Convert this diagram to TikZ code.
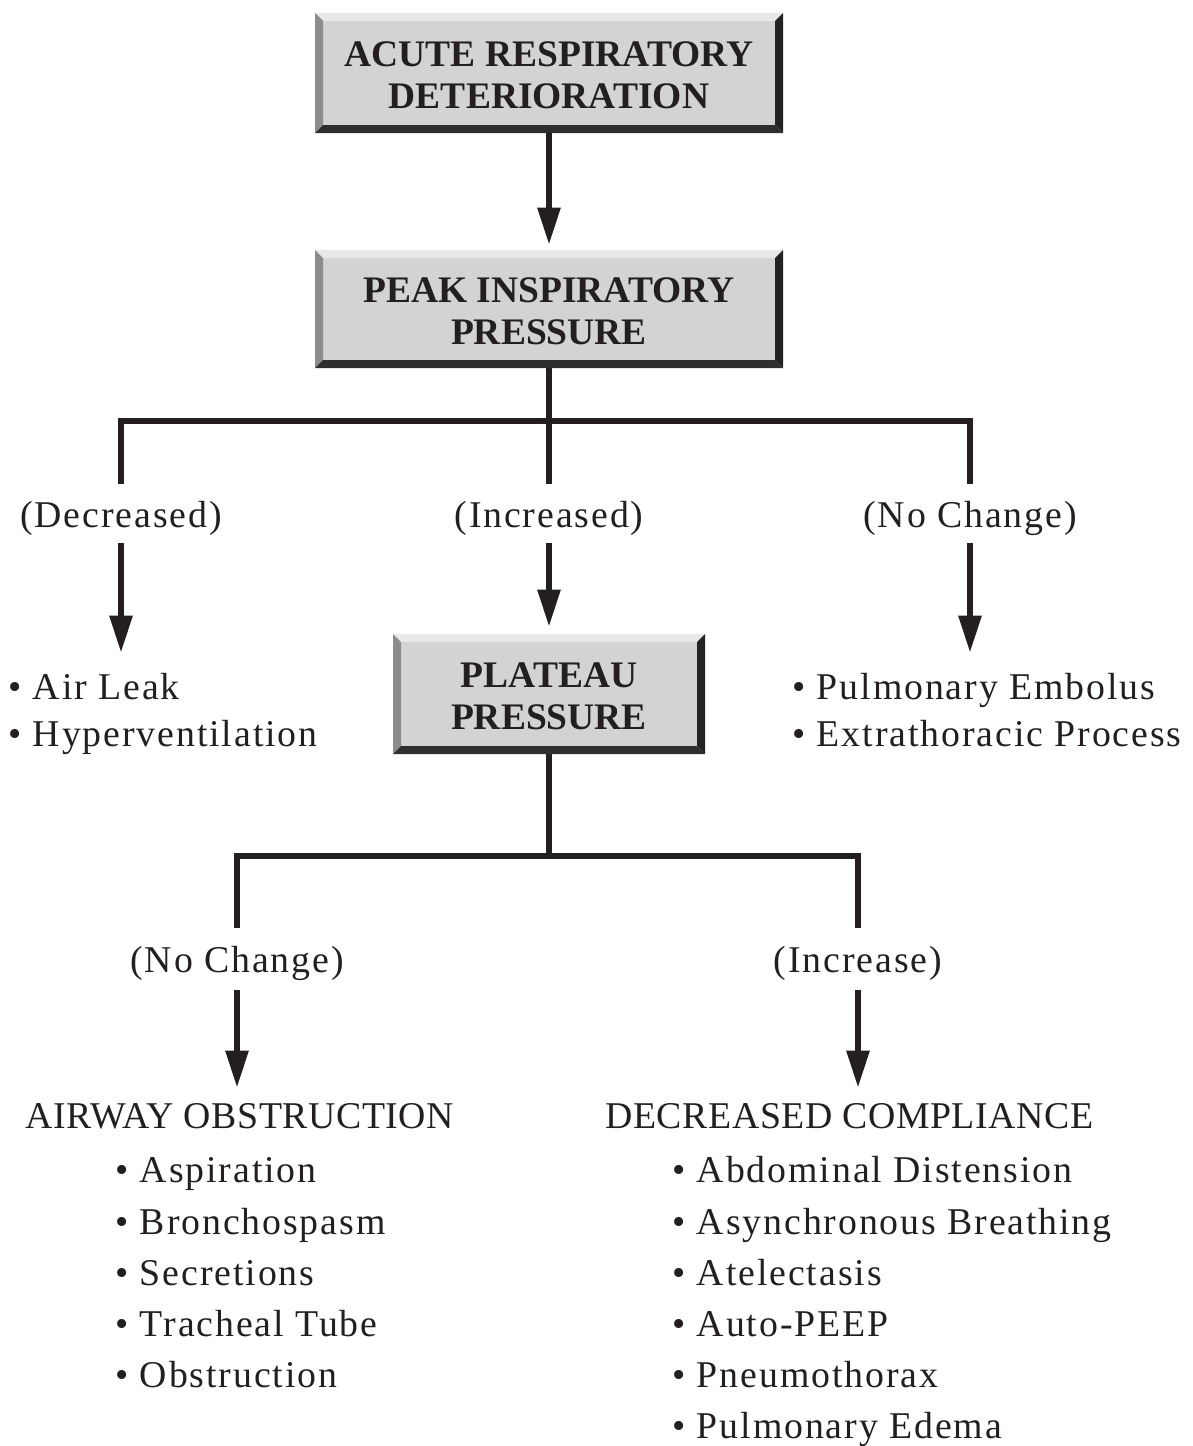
\documentclass[tikz,border=0pt]{standalone}
\usepackage{fontspec}
\setmainfont{Liberation Serif}
\newfontfamily\itemfont[LetterSpace=5]{Liberation Serif}
\newfontfamily\headfont[LetterSpace=1.5]{Liberation Serif}
\usetikzlibrary{arrows.meta,calc}

\definecolor{ink}{HTML}{231F20}
\definecolor{face}{HTML}{D3D3D3}
\definecolor{bevtop}{HTML}{E8E8E8}
\definecolor{bevleft}{HTML}{8C8C8C}
\definecolor{bevright}{HTML}{232323}
\definecolor{bevbottom}{HTML}{2E2E2E}

% invisible strut that lowers the two-line box captions slightly
\newcommand{\capstrut}{\rule{0pt}{14.9pt}}

\tikzset{
  ln/.style={draw=ink, line width=3pt},
  arr/.style={ln, -{Triangle[length=18.5pt,width=11pt]}},
  bevelbox/.style={
    rectangle, fill=face, inner sep=0pt, text=ink, align=center,
    font=\bfseries\fontsize{18.75}{21}\selectfont,
    path picture={
      \coordinate (pnw) at (path picture bounding box.north west);
      \coordinate (pne) at (path picture bounding box.north east);
      \coordinate (psw) at (path picture bounding box.south west);
      \coordinate (pse) at (path picture bounding box.south east);
      \fill[bevtop] (pnw) -- (pne) -- ($(pne)+(-8,8)$) -- ($(pnw)+(8,8)$) -- cycle;
      \fill[bevleft] (pnw) -- (psw) -- ($(psw)+(8,-8)$) -- ($(pnw)+(8,8)$) -- cycle;
      \fill[bevright] (pne) -- (pse) -- ($(pse)+(-8,-8)$) -- ($(pne)+(-8,8)$) -- cycle;
      \fill[bevbottom] (psw) -- (pse) -- ($(pse)+(-8,-8)$) -- ($(psw)+(8,-8)$) -- cycle;
    }},
  cond/.style={font=\itemfont\fontsize{18.9}{21}\selectfont, text=ink,
    inner sep=0pt, anchor=base, text height=21.5pt, text depth=8pt},
  item/.style={font=\itemfont\fontsize{18.9}{21}\selectfont, text=ink,
    inner sep=0pt, anchor=base west},
  head/.style={font=\headfont\fontsize{18.9}{21}\selectfont, text=ink,
    inner sep=0pt, anchor=base west, text height=20pt},
}

\begin{document}
\begin{tikzpicture}[x=0.5pt,y=-0.5pt]
  \useasboundingbox (0,0) rectangle (1193,1446);

  % decision boxes
  \node[bevelbox, minimum width=234pt, minimum height=60pt] (b1) at (549,73)
    {\capstrut ACUTE RESPIRATORY\\DETERIORATION};
  \node[bevelbox, minimum width=234pt, minimum height=59pt] (b2) at (549,309)
    {\capstrut PEAK INSPIRATORY\\PRESSURE};
  \node[bevelbox, minimum width=156pt, minimum height=60pt] (b3) at (549,694)
    {\capstrut PLATEAU\\PRESSURE};

  % first level outcomes
  \node[cond] (dec) at (121,527) {(Decreased)};
  \node[cond] (inc) at (549,527) {(Increased)};
  \node[cond] (nch) at (970,527) {(No Change)};

  \node[item, text height=23pt] (air) at (8,699) {• Air Leak};
  \node[item] (hyp) at (8,746) {• Hyperventilation};
  \node[item, text height=23pt] (pem) at (792,699) {• Pulmonary Embolus};
  \node[item] (ext) at (792,746) {• Extrathoracic Process};

  % second level outcomes
  \node[cond, text height=22pt, text depth=9pt] (nch2) at (237,972) {(No Change)};
  \node[cond, text height=22pt, text depth=9pt] (inc2) at (858,972) {(Increase)};

  \node[head] (ao) at (25,1128) {AIRWAY OBSTRUCTION};
  \node[item] (ao1) at (115,1182) {• Aspiration};
  \node[item] (ao2) at (115,1234) {• Bronchospasm};
  \node[item] (ao3) at (115,1285) {• Secretions};
  \node[item] (ao4) at (115,1336) {• Tracheal Tube};
  \node[item] (ao5) at (115,1387) {• Obstruction};

  \node[head] (dc) at (605,1128) {DECREASED COMPLIANCE};
  \node[item] (dc1) at (672,1182) {• Abdominal Distension};
  \node[item] (dc2) at (672,1234) {• Asynchronous Breathing};
  \node[item] (dc3) at (672,1285) {• Atelectasis};
  \node[item] (dc4) at (672,1336) {• Auto-PEEP};
  \node[item] (dc5) at (672,1387) {• Pneumothorax};
  \node[item] (dc6) at (672,1438) {• Pulmonary Edema};

  % junction points
  \coordinate (j1) at (549,421);
  \coordinate (j2) at (549,856);

  % connectors
  \draw[arr, shorten >=2.5pt] (b1.south) -- (b2.north);

  \draw[ln] (b2.south) -- (inc.north);
  \draw[ln] (dec.north) -- (dec.north |- j1) -- (nch.north |- j1) -- (nch.north);
  \draw[arr] (dec.south) -- (dec.south |- air.north);
  \draw[arr, shorten >=3.5pt] (inc.south) -- (b3.north);
  \draw[arr] (nch.south) -- (nch.south |- pem.north);

  \draw[ln] (b3.south) -- (j2);
  \draw[ln] (nch2.north) -- (nch2.north |- j2) -- (inc2.north |- j2) -- (inc2.north);
  \draw[arr] (nch2.south) -- (nch2.south |- ao.north);
  \draw[arr] (inc2.south) -- (inc2.south |- dc.north);
\end{tikzpicture}
\end{document}
